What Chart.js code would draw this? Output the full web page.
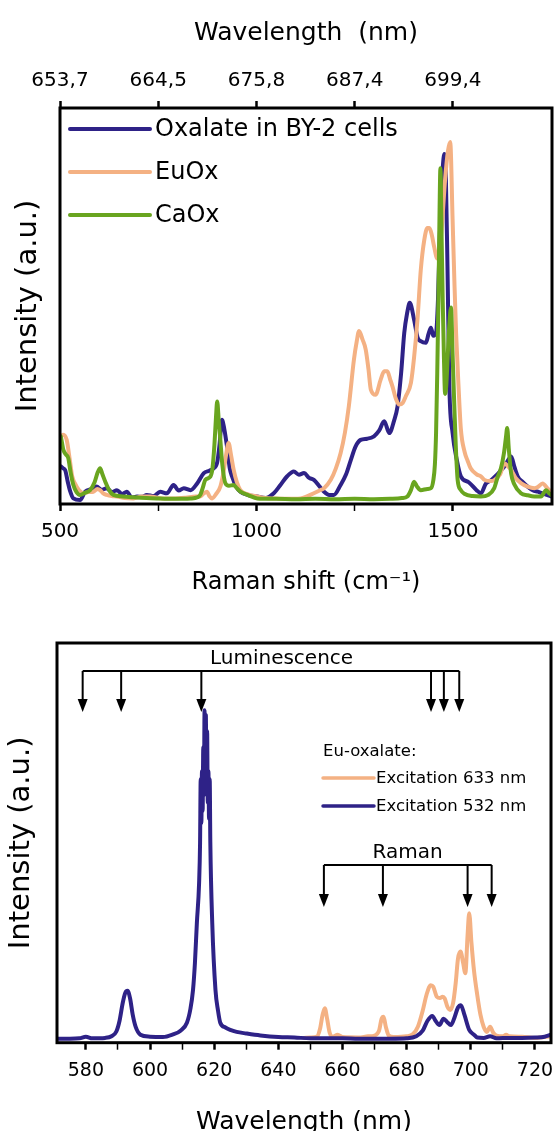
<!DOCTYPE html>
<html><head><meta charset="utf-8">
<script src="https://cdn.jsdelivr.net/npm/chart.js@4.4.1/dist/chart.umd.min.js"></script>
<style>
html,body{margin:0;padding:0;background:#fff;overflow:hidden;width:555px;height:1131px;}
#top{position:absolute;left:0;top:0;width:555px;height:610px;}
#bot{position:absolute;left:0;top:610px;width:555px;height:530px;}
</style></head><body>
<div id="top"><canvas id="c1"></canvas></div>
<div id="bot"><canvas id="c2"></canvas></div>
<script>
// ---------- TOP CHART DATA (Raman shift, cm-1) ----------
const ramanTicks = [500, 750, 1000, 1250, 1500];
const ramanLabeledTicks = [500, 1000, 1500];
const wavelengthTopLabels = ['653,7', '664,5', '675,8', '687,4', '699,4'];

const oxalateX = [502,508,513,520,525,534,551,564,580,593,606,619,632,645,658,670,683,696,708,721,738,755,772,789,802,815,832,849,866,880,891,900,906,912,918,925,932,938,948,959,980,1002,1023,1044,1061,1078,1095,1108,1121,1134,1146,1160,1172,1185,1197,1214,1228,1240,1252,1265,1282,1299,1312,1325,1338,1350,1359,1368,1376,1383,1390,1401,1410,1418,1431,1438,1444,1450,1457,1462,1466,1470,1474,1478,1482,1486,1491,1499,1510,1520,1540,1560,1571,1584,1597,1610,1622,1631,1640,1648,1656,1665,1678,1690,1703,1716,1733,1750];
const oxalateY = [9.5,9.0,8.6,5.5,3.5,1.4,1.0,3.1,3.8,4.4,3.6,4.0,3.0,3.5,2.5,3.1,1.6,1.9,1.8,2.3,2.0,3.1,2.7,4.8,3.4,4.0,3.5,5.2,7.8,8.4,9.0,10.5,15,21.3,19,14.5,9,6.9,4.5,3.1,2.2,1.9,1.5,2.7,4.8,7.0,8.2,7.4,7.8,6.6,6.1,4.5,3.1,2.3,2.3,4.8,7.5,11.1,14.5,16.2,16.5,17.1,18.5,20.9,17.9,21,24.7,33,43.2,48,50.8,46.6,42,41.1,40.7,43,44.5,42.5,43.2,52,66,78,85,88.4,82,60,29,18,11,7,5.5,3.5,2.7,5.2,6,7.2,8.5,9.5,11,12.0,9.5,6.9,5.5,4.4,3.5,3.1,2.5,1.9];

const euoxX = [502,508,517,525,531,538,548,560,572,585,595,602,610,619,632,645,665,687,708,730,760,789,820,845,857,866,874,880,887,897,908,916,922,929,935,942,950,959,980,1002,1023,1044,1078,1112,1130,1146,1160,1172,1189,1202,1214,1225,1235,1248,1255,1261,1270,1278,1285,1291,1303,1316,1325,1333,1340,1346,1355,1363,1372,1380,1393,1401,1410,1418,1427,1435,1440,1446,1452,1460,1470,1480,1487,1493,1499,1504,1508,1514,1520,1530,1537,1545,1560,1571,1580,1595,1605,1620,1631,1640,1648,1660,1673,1690,1707,1716,1728,1740,1750];
const euoxY = [17.1,17.5,16.2,11.1,7,5.2,3.5,2.7,3.0,3.1,3.8,3.5,2.7,2.3,2.0,1.9,1.5,1.4,1.9,1.9,1.4,1.4,1.6,1.9,1.9,2.7,3.1,2.0,1.4,2.5,4.4,8,12,15.4,12.5,8.6,5.5,3.5,2.4,1.9,1.5,1.4,1.3,1.4,2.0,2.7,3.4,4.0,6.1,9,12.8,18,24.7,36.5,41,43.7,41.5,39.0,34,28.9,27.6,31.4,33.5,33.5,31.5,29.7,26.5,25.1,25.5,27.2,30.6,37,47,59,66.7,69.7,69.7,68,65,62,68,82,89,91.4,72,55,43,30,19,13,11,9,7.5,7,6.1,5.8,6,7.5,10.3,9.5,8.6,6.5,5.3,4.4,4,4.3,5.2,4,3];

const caoxX = [502,505,508.5,515,521,527,534,542,551,563,576.5,588,596,602,608,615,625,636,660,687,720,747,790,832,850,857,863,870,882.6,888,893,897,900,904,908,913,921,930,942,950,959,980,1002,1050,1100,1150,1200,1250,1299,1340,1370,1384,1393,1401,1408,1418,1435,1444,1450,1454,1457,1460,1463,1466,1468,1471,1474,1477,1480,1483,1486,1490,1495,1499,1503,1507,1512,1520,1529,1550,1571,1590,1605,1614,1622,1630,1635,1638,1642,1648,1656,1673,1690,1707,1724,1737,1744,1750];
const caoxY = [17.1,15.5,13.7,12.5,11.6,8,4.8,3.0,2.3,2.8,3.5,5.5,8,9.0,7.5,5.7,3.5,2.3,1.9,1.7,1.5,1.4,1.3,1.4,1.7,2.3,4,6.1,6.9,9,15,22,25.9,21,16.2,10,5.2,4.6,4.8,4,3.1,2.2,1.4,1.3,1.2,1.3,1.2,1.3,1.2,1.3,1.5,1.9,3.5,5.6,4.5,3.5,3.8,4.0,6,10,18,33,51.7,75,84.8,68,51,37,27.8,30,36,44,49.6,38,26,15,6,3.5,2.6,2,1.9,2.3,4,6.9,9,13,17,19.2,14,7.7,5,2.7,2.2,1.9,1.9,3.5,2.8,2.3];

// ---------- BOTTOM CHART DATA (Wavelength, nm) ----------
const wlTicks = [580,590,600,610,620,630,640,650,660,670,680,690,700,710,720];
const exc532X = [571,575,578,580,582,586,588,589.5,590.5,591.5,592.3,593,593.8,594.6,595.5,597,600,604,607,609.5,611.5,612.6,613.4,614.0,614.6,615.3,615.6,615.8,616.0,616.2,616.4,616.6,616.8,617.0,617.2,617.4,617.6,617.8,618.0,618.2,618.4,618.6,618.8,619.4,620.4,621.2,621.9,623.5,625,627,630,634.4,640,645,650,655,660,665,670,675,680,683,685,686.5,688,689,690.2,691.5,692.6,693.8,695,696,696.9,698,699.5,701,702,704,706,708,712,716,720,723,725];
const exc532Y = [1.0,1.0,1.1,1.5,1.1,1.2,1.6,2.8,5.5,10,12.5,13,11,7,4,2,1.5,1.4,2,3,5,8.5,13.2,20,29.9,40,50,66,55,68,58,74,62,83.2,66,82,63,78,60,68,56,66,50,29.9,13.2,8,5.0,3.8,3.2,2.7,2.3,1.8,1.4,1.3,1.1,1.1,1.1,1.0,1.0,1.0,1.1,1.6,3,5.5,6.7,5.5,4.4,6.0,5.2,4.4,6.5,8.8,9.4,7,3.2,2,1.3,1.2,1.6,1.1,1.2,1.2,1.3,1.5,2];
const exc633X = [648,650,652,653,653.8,654.5,655.2,656,657,658.5,660,665,668,670,671.4,672.2,672.8,673.5,674.4,676,680,682,683.5,685,686.2,687.5,688.3,689.4,690.4,691.2,691.9,692.7,693.6,694.5,695.3,696,696.8,697.6,698.3,699,699.5,700.2,701,702,703,704,705,706,707,708,710,711,712,716,720,723,725];
const exc633Y = [1.2,1.3,1.5,3.5,7,8.6,6,2.5,1.5,2,1.4,1.3,1.6,1.8,3,6,6.5,4,1.8,1.4,1.6,2.2,4,8,12,14.4,14,11.5,11.2,11.5,11,9,8.2,10,15,21,22.8,20,17.4,27,32.4,25,18,12,7,4,2.7,4,2.5,1.8,1.6,2,1.6,1.5,1.2,1.4,1.6];

const luminescenceLines = [579, 591, 616, 687.6, 691.6, 696.4];
const ramanLines = [654.2, 672.6, 699.0, 706.5];

const FONT = "'DejaVu Sans', sans-serif";
const BLUE = '#2E2287', ORANGE = '#F4B183', GREEN = '#69A51F';
Chart.defaults.font.family = FONT;
Chart.defaults.color = '#000';
const zip = (xs, ys) => xs.map((x, i) => ({x: x, y: ys[i]}));

const boxPlugin = {
  id: 'box',
  afterDatasetsDraw(chart) {
    const {ctx, chartArea: a} = chart;
    ctx.save(); ctx.strokeStyle = '#000'; ctx.lineWidth = 3;
    ctx.strokeRect(a.left, a.top, a.right - a.left, a.bottom - a.top);
    ctx.restore();
  }
};

const topLegend = {
  id: 'topLegend',
  afterDraw(chart) {
    const ctx = chart.ctx; ctx.save();
    ctx.font = '24px ' + FONT; ctx.textBaseline = 'middle'; ctx.fillStyle = '#000';
    const rows = [129, 172, 215];
    chart.data.datasets.forEach((ds, i) => {
      const y = rows[i];
      ctx.strokeStyle = ds.borderColor; ctx.lineWidth = 4; ctx.lineCap = 'round';
      ctx.beginPath(); ctx.moveTo(70, y); ctx.lineTo(150, y); ctx.stroke();
      ctx.fillText(ds.label, 155, y + 1);
    });
    ctx.restore();
  }
};

const tickGrid = (major) => ({
  drawOnChartArea: false, drawTicks: true, tickLength: 7, tickColor: '#000',
  tickWidth: c => (major(c.tick.value) ? 2.5 : 1.5)
});
const noSidePad = s => { s.paddingLeft = 0; s.paddingRight = 0; };

new Chart(document.getElementById('c1'), {
  type: 'line',
  data: {
    datasets: [
      {label: 'Oxalate in BY-2 cells', data: zip(oxalateX, oxalateY), borderColor: BLUE, order: 2},
      {label: 'EuOx', data: zip(euoxX, euoxY), borderColor: ORANGE, order: 1},
      {label: 'CaOx', data: zip(caoxX, caoxY), borderColor: GREEN, order: 0}
    ]
  },
  options: {
    responsive: true, maintainAspectRatio: false, animation: false, devicePixelRatio: 1,
    layout: {padding: {left: 0, right: 3, top: 0, bottom: 0}},
    elements: {line: {borderWidth: 4, cubicInterpolationMode: 'monotone', borderJoinStyle: 'round', borderCapStyle: 'round'}, point: {radius: 0}},
    plugins: {legend: {display: false}, tooltip: {enabled: false}},
    scales: {
      x: {
        type: 'linear', position: 'bottom', min: 500, max: 1752,
        afterBuildTicks: s => { s.ticks = ramanTicks.map(v => ({value: v})); },
        afterFit: s => { s.height = 106; noSidePad(s); },
        ticks: {callback: v => (ramanLabeledTicks.includes(v) ? String(v) : ''), font: {size: 20}, color: '#000', padding: 9, maxRotation: 0, autoSkip: false},
        grid: tickGrid(v => ramanLabeledTicks.includes(v)),
        border: {display: false},
        title: {display: true, text: 'Raman shift (cm⁻¹)', font: {size: 24}, color: '#000', padding: {top: 0, bottom: 13}}
      },
      xTop: {
        type: 'linear', position: 'top', min: 500, max: 1752,
        afterBuildTicks: s => { s.ticks = ramanTicks.map(v => ({value: v})); },
        afterFit: s => { s.height = 108; noSidePad(s); },
        ticks: {callback: (v, i) => wavelengthTopLabels[i], font: {size: 20}, color: '#000', padding: 8, maxRotation: 0, autoSkip: false},
        grid: tickGrid(() => true),
        border: {display: false},
        title: {display: true, text: 'Wavelength  (nm)', font: {size: 25}, color: '#000', padding: {top: 18, bottom: 0}}
      },
      y: {
        min: 0, max: 100,
        afterFit: s => { s.width = 60; },
        ticks: {display: false}, grid: {display: false}, border: {display: false},
        title: {display: true, text: 'Intensity (a.u.)', font: {size: 29}, color: '#000', padding: {top: 11, bottom: 0}}
      }
    }
  },
  plugins: [boxPlugin, topLegend]
});

// ---------- bottom chart ----------
const brackets = [
  {label: 'Luminescence', lines: luminescenceLines, labelAt: 641, textY: 49, lineY: 61, tipY: 102},
  {label: 'Raman', lines: ramanLines, labelAt: 680.3, textY: 243, lineY: 255, tipY: 297}
];
const bracketPlugin = {
  id: 'brackets',
  afterDraw(chart) {
    const {ctx, scales: {x}} = chart;
    brackets.forEach(b => {
      const xs = b.lines.map(v => x.getPixelForValue(v));
      ctx.save(); ctx.strokeStyle = '#000'; ctx.fillStyle = '#000'; ctx.lineWidth = 2;
      ctx.beginPath(); ctx.moveTo(Math.min(...xs), b.lineY); ctx.lineTo(Math.max(...xs), b.lineY); ctx.stroke();
      xs.forEach(px => {
        ctx.beginPath(); ctx.moveTo(px, b.lineY); ctx.lineTo(px, b.tipY - 12); ctx.stroke();
        ctx.beginPath(); ctx.moveTo(px - 5, b.tipY - 13); ctx.lineTo(px + 5, b.tipY - 13); ctx.lineTo(px, b.tipY); ctx.closePath(); ctx.fill();
      });
      ctx.font = '20px ' + FONT; ctx.textAlign = 'center'; ctx.textBaseline = 'middle';
      ctx.fillText(b.label, x.getPixelForValue(b.labelAt), b.textY);
      ctx.restore();
    });
  }
};
const botLegend = {
  id: 'botLegend',
  afterDraw(chart) {
    const ctx = chart.ctx; ctx.save();
    ctx.font = '16.5px ' + FONT; ctx.textBaseline = 'middle'; ctx.fillStyle = '#000';
    ctx.fillText('Eu-oxalate:', 323, 142);
    const rows = [168, 196];
    const order = [1, 0];
    order.forEach((di, i) => {
      const ds = chart.data.datasets[di];
      ctx.strokeStyle = ds.borderColor; ctx.lineWidth = 3.5; ctx.lineCap = 'round';
      ctx.beginPath(); ctx.moveTo(323, rows[i]); ctx.lineTo(374, rows[i]); ctx.stroke();
      ctx.fillText(ds.label, 376, rows[i] + 1);
    });
    ctx.restore();
  }
};

new Chart(document.getElementById('c2'), {
  type: 'line',
  data: {
    datasets: [
      {label: 'Excitation 532 nm', data: zip(exc532X, exc532Y), borderColor: BLUE, order: 0},
      {label: 'Excitation 633 nm', data: zip(exc633X, exc633Y), borderColor: ORANGE, order: 1}
    ]
  },
  options: {
    responsive: true, maintainAspectRatio: false, animation: false, devicePixelRatio: 1,
    layout: {padding: {left: 0, right: 4, top: 33, bottom: 0}},
    elements: {line: {borderWidth: 4, cubicInterpolationMode: 'monotone', borderJoinStyle: 'round', borderCapStyle: 'round'}, point: {radius: 0}},
    plugins: {legend: {display: false}, tooltip: {enabled: false}},
    scales: {
      x: {
        type: 'linear', position: 'bottom', min: 571, max: 725,
        afterBuildTicks: s => { s.ticks = wlTicks.map(v => ({value: v})); },
        afterFit: s => { s.height = 97.3; noSidePad(s); },
        ticks: {callback: v => (v % 20 === 0 ? String(v) : ''), font: {size: 19}, color: '#000', padding: 10, maxRotation: 0, autoSkip: false},
        grid: tickGrid(v => v % 20 === 0),
        border: {display: false},
        title: {display: true, text: 'Wavelength (nm)', font: {size: 25}, color: '#000', padding: {top: 0, bottom: 3}}
      },
      y: {
        min: 0, max: 100,
        afterFit: s => { s.width = 57; },
        ticks: {display: false}, grid: {display: false}, border: {display: false},
        title: {display: true, text: 'Intensity (a.u.)', font: {size: 29}, color: '#000', padding: {top: 4, bottom: 0}}
      }
    }
  },
  plugins: [boxPlugin, bracketPlugin, botLegend]
});
</script>
</body></html>
